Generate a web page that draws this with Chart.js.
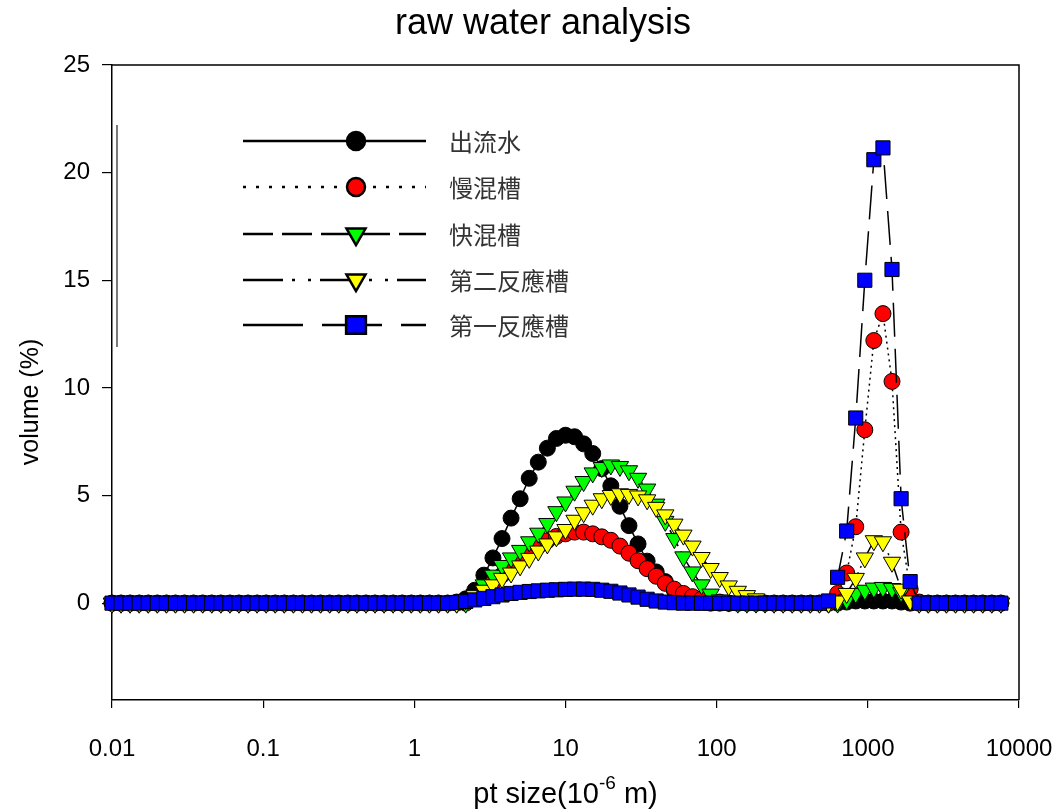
<!DOCTYPE html>
<html>
<head>
<meta charset="utf-8">
<script src="https://cdn.jsdelivr.net/npm/chart.js@4/dist/chart.umd.min.js"></script>
<style>
  body { margin: 0; background: #fff; }
  #wrap { width: 1058px; height: 812px; }
</style>
</head>
<body>
<div id="wrap"><canvas id="miGrafica" width="1058" height="812"></canvas></div>
<script>
// tamaños de partícula (um), clases logarítmicas
const tamanos = [
  0.01, 0.01148, 0.01318, 0.01514, 0.01738, 0.01995, 0.02291, 0.0263, 0.0302, 0.03467,
  0.03981, 0.04571, 0.05248, 0.06026, 0.06918, 0.07943, 0.0912, 0.1047, 0.1202, 0.138,
  0.1585, 0.182, 0.2089, 0.2399, 0.2754, 0.3162, 0.3631, 0.4169, 0.4786, 0.5495,
  0.631, 0.7244, 0.8318, 0.955, 1.096, 1.259, 1.445, 1.66, 1.905, 2.188,
  2.512, 2.884, 3.311, 3.802, 4.365, 5.012, 5.754, 6.607, 7.586, 8.71,
  10, 11.48, 13.18, 15.14, 17.38, 19.95, 22.91, 26.3, 30.2, 34.67,
  39.81, 45.71, 52.48, 60.26, 69.18, 79.43, 91.2, 104.7, 120.2, 138,
  158.5, 182, 208.9, 239.9, 275.4, 316.2, 363.1, 416.9, 478.6, 549.5,
  631, 724.4, 831.8, 955, 1096, 1259, 1445, 1660, 1905, 2188,
  2512, 2884, 3311, 3802, 4365, 5012, 5754, 6607, 7586
];

const salida = [ // 出流水
  0, 0, 0, 0, 0, 0, 0, 0, 0, 0,
  0, 0, 0, 0, 0, 0, 0, 0, 0, 0,
  0, 0, 0, 0, 0, 0, 0, 0, 0, 0,
  0, 0, 0, 0, 0, 0, 0, 0, 0.05, 0.2,
  0.6, 1.3, 2.1, 3.0, 3.95, 4.85, 5.8, 6.55, 7.2, 7.65,
  7.8, 7.73, 7.4, 6.95, 6.25, 5.45, 4.5, 3.6, 2.75, 1.95,
  1.45, 1.0, 0.6, 0.3, 0.12, 0.04, 0, 0, 0, 0,
  0, 0, 0, 0, 0, 0, 0, 0, 0, 0,
  0, 0.05, 0.1, 0.1, 0.1, 0.1, 0.1, 0.05, 0, 0,
  0, 0, 0, 0, 0, 0, 0, 0, 0
];

const mezclaLenta = [ // 慢混槽
  0, 0, 0, 0, 0, 0, 0, 0, 0, 0,
  0, 0, 0, 0, 0, 0, 0, 0, 0, 0,
  0, 0, 0, 0, 0, 0, 0, 0, 0, 0,
  0, 0, 0, 0, 0, 0, 0, 0, 0, 0,
  0.3, 0.6, 0.95, 1.3, 1.65, 2.0, 2.35, 2.65, 2.9, 3.1,
  3.22, 3.3, 3.3, 3.22, 3.08, 2.92, 2.65, 2.32, 1.97, 1.6,
  1.25, 0.92, 0.65, 0.45, 0.3, 0.18, 0.1, 0.05, 0, 0,
  0, 0, 0, 0, 0, 0, 0, 0, 0, 0,
  0.45, 1.4, 3.55, 8.05, 12.2, 13.45, 10.3, 3.3, 0.65, 0.05,
  0, 0, 0, 0, 0, 0, 0, 0, 0
];

const mezclaRapida = [ // 快混槽
  0, 0, 0, 0, 0, 0, 0, 0, 0, 0,
  0, 0, 0, 0, 0, 0, 0, 0, 0, 0,
  0, 0, 0, 0, 0, 0, 0, 0, 0, 0,
  0, 0, 0, 0, 0, 0, 0, 0, 0, 0,
  0.4, 0.85, 1.3, 1.75, 2.1, 2.45, 2.85, 3.25, 3.7, 4.25,
  4.7, 5.2, 5.65, 6.05, 6.3, 6.42, 6.35, 6.15, 5.8, 5.3,
  4.6, 3.8, 3.0, 2.15, 1.45, 0.85, 0.42, 0.15, 0.05, 0,
  0, 0, 0, 0, 0, 0, 0, 0, 0, 0,
  0, 0.15, 0.45, 0.6, 0.7, 0.73, 0.68, 0.5, 0.1, 0,
  0, 0, 0, 0, 0, 0, 0, 0, 0
];

const reaccion2 = [ // 第二反應槽
  0, 0, 0, 0, 0, 0, 0, 0, 0, 0,
  0, 0, 0, 0, 0, 0, 0, 0, 0, 0,
  0, 0, 0, 0, 0, 0, 0, 0, 0, 0,
  0, 0, 0, 0, 0, 0, 0, 0, 0, 0.15,
  0.35, 0.6, 0.85, 1.15, 1.4, 1.73, 2.08, 2.42, 2.75, 3.08,
  3.42, 3.85, 4.2, 4.55, 4.85, 5.0, 5.08, 5.05, 4.98, 4.8,
  4.45, 4.1, 3.67, 3.16, 2.65, 2.12, 1.61, 1.19, 0.8, 0.55,
  0.35, 0.2, 0.08, 0, 0, 0, 0, 0, 0, 0,
  0.1, 0.45, 1.15, 2.1, 2.9, 2.85, 1.9, 0.65, 0.1, 0,
  0, 0, 0, 0, 0, 0, 0, 0, 0
];

const reaccion1 = [ // 第一反應槽
  0, 0, 0, 0, 0, 0, 0, 0, 0, 0,
  0, 0, 0, 0, 0, 0, 0, 0, 0, 0,
  0, 0, 0, 0, 0, 0, 0, 0, 0, 0,
  0, 0, 0, 0, 0, 0, 0, 0, 0.03, 0.08,
  0.15, 0.22, 0.3, 0.38, 0.45, 0.5, 0.54, 0.57, 0.6, 0.62,
  0.64, 0.65, 0.65, 0.64, 0.6, 0.55, 0.47, 0.38, 0.28, 0.18,
  0.1, 0.05, 0.02, 0, 0, 0, 0, 0, 0, 0,
  0, 0, 0, 0, 0, 0, 0, 0, 0, 0.1,
  1.2, 3.35, 8.6, 15.0, 20.6, 21.15, 15.5, 4.85, 1.0, 0,
  0, 0, 0, 0, 0, 0, 0, 0, 0
];

const nombres = ["出流水", "慢混槽", "快混槽", "第二反應槽", "第一反應槽"];
const xTicks = [0.01, 0.1, 1, 10, 100, 1000, 10000];
const xTickLabels = ["0.01", "0.1", "1", "10", "100", "1000", "10000"];
const yTicks = [0, 5, 10, 15, 20, 25];

// estilo de cada serie
const estilos = [
  { color: "#000000", punto: "circle", radio: 8, rot: 0, dash: [], dashLeyenda: [] },
  { color: "#ff0000", punto: "circle", radio: 8, rot: 0, dash: [2, 4], dashLeyenda: [3, 10] },
  { color: "#00ff00", punto: "triangle", radio: 10, rot: 180, dash: [18, 6], dashLeyenda: [30, 9] },
  { color: "#ffff00", punto: "triangle", radio: 10, rot: 180, dash: [22, 5, 2, 7, 2, 5], dashLeyenda: [40, 9, 3, 13, 3, 9] },
  { color: "#0000ff", punto: "rect", radio: 10, rot: 0, dash: [34, 12], dashLeyenda: [60, 19] }
];

const series = [salida, mezclaLenta, mezclaRapida, reaccion2, reaccion1];

const datasets = series.map((serie, k) => ({
  label: nombres[k],
  data: tamanos.map((t, i) => ({ x: t, y: serie[i] })),
  borderColor: "#000",
  borderWidth: 1.5,
  borderDash: estilos[k].dash,
  pointStyle: estilos[k].punto,
  pointRotation: estilos[k].rot,
  pointRadius: estilos[k].radio,
  pointBackgroundColor: estilos[k].color,
  pointBorderColor: "#000",
  pointBorderWidth: 1,
  tension: 0,
  clip: false,
  order: 5 - k
}));

function marcador(ctx, est, x, y, r) {
  ctx.save();
  ctx.setLineDash([]);
  ctx.fillStyle = est.color;
  ctx.strokeStyle = "#000";
  ctx.lineWidth = 2.5;
  ctx.beginPath();
  if (est.punto === "circle") {
    ctx.arc(x, y, r, 0, Math.PI * 2);
  } else if (est.punto === "triangle") {
    const s = Math.sin(Math.PI / 3) * r;
    ctx.moveTo(x, y + r);
    ctx.lineTo(x - s, y - r / 2);
    ctx.lineTo(x + s, y - r / 2);
    ctx.closePath();
  } else {
    ctx.rect(x - r * 0.9, y - r * 0.8, r * 1.8, r * 1.6);
  }
  ctx.fill();
  ctx.stroke();
  ctx.restore();
}

const decoracion = {
  id: "decoracion",
  afterDraw(chart) {
    const ctx = chart.ctx;
    const a = chart.chartArea;
    ctx.save();
    // marco superior y derecho
    ctx.strokeStyle = "#000";
    ctx.lineWidth = 1.5;
    ctx.beginPath();
    ctx.moveTo(a.left, a.top);
    ctx.lineTo(a.right, a.top);
    ctx.lineTo(a.right, a.bottom);
    ctx.stroke();

    // título
    ctx.fillStyle = "#000";
    ctx.textAlign = "center";
    ctx.textBaseline = "middle";
    ctx.font = "36px 'Liberation Sans', Arial, sans-serif";
    ctx.fillText("raw water analysis", 543, 24);

    // título eje y
    ctx.save();
    ctx.translate(31, 402);
    ctx.rotate(-Math.PI / 2);
    ctx.font = "25px 'Liberation Sans', Arial, sans-serif";
    ctx.fillText("volume (%)", 0, 0);
    ctx.restore();

    // título eje x con superíndice
    ctx.textAlign = "left";
    ctx.textBaseline = "alphabetic";
    const f1 = "29px 'Liberation Sans', Arial, sans-serif";
    const f2 = "19px 'Liberation Sans', Arial, sans-serif";
    const p1 = "pt size(10", p2 = "-6", p3 = " m)";
    ctx.font = f1;
    const w1 = ctx.measureText(p1).width, w3 = ctx.measureText(p3).width;
    ctx.font = f2;
    const w2 = ctx.measureText(p2).width;
    let x0 = (a.left + a.right) / 2 - (w1 + w2 + w3) / 2;
    const yb = 803;
    ctx.font = f1; ctx.fillText(p1, x0, yb); x0 += w1;
    ctx.font = f2; ctx.fillText(p2, x0, yb - 14); x0 += w2;
    ctx.font = f1; ctx.fillText(p3, x0, yb);

    // leyenda
    ctx.strokeStyle = "#222";
    ctx.lineWidth = 1.2;
    ctx.beginPath();
    ctx.moveTo(117, 125);
    ctx.lineTo(117, 347);
    ctx.stroke();
    const filas = [141, 187, 234, 280, 325];
    estilos.forEach((est, k) => {
      const y = filas[k];
      ctx.save();
      ctx.strokeStyle = "#000";
      ctx.lineWidth = 2.5;
      ctx.setLineDash(est.dashLeyenda);
      ctx.beginPath();
      ctx.moveTo(243, y);
      ctx.lineTo(426, y);
      ctx.stroke();
      ctx.restore();
      marcador(ctx, est, 356, y, est.punto === "circle" ? 9 : 11);
      ctx.fillStyle = "#333";
      ctx.textAlign = "left";
      ctx.textBaseline = "middle";
      ctx.font = "24px 'Noto Sans CJK TC', sans-serif";
      ctx.fillText(nombres[k], 449, y + 1);
    });
    ctx.restore();
  }
};

const ctx = document.getElementById("miGrafica").getContext("2d");
new Chart(ctx, {
  type: "line",
  data: { datasets: datasets },
  options: {
    responsive: false,
    animation: false,
    layout: { padding: { top: 65, right: 39, left: 0, bottom: 0 } },
    plugins: {
      legend: { display: false },
      tooltip: { enabled: false },
      title: { display: false }
    },
    scales: {
      x: {
        type: "logarithmic",
        min: 0.01,
        max: 10000,
        afterBuildTicks: (scale) => { scale.ticks = xTicks.map(v => ({ value: v })); },
        afterFit: (scale) => { scale.height = 112; scale.paddingLeft = 0; scale.paddingRight = 0; },
        ticks: {
          autoSkip: false,
          maxRotation: 0,
          padding: 27,
          color: "#000",
          font: { family: "'Liberation Sans', Arial, sans-serif", size: 24 },
          callback: (v, i) => xTickLabels[i]
        },
        grid: { drawOnChartArea: false, drawTicks: true, tickLength: 8, color: "#000", lineWidth: 1.2 },
        border: { display: true, color: "#000", width: 1.5 }
      },
      y: {
        type: "linear",
        min: -4.5,
        max: 25,
        afterBuildTicks: (scale) => { scale.ticks = yTicks.map(v => ({ value: v })); },
        afterFit: (scale) => { scale.width = 112; scale.paddingTop = 0; scale.paddingBottom = 0; },
        ticks: {
          padding: 12,
          color: "#000",
          font: { family: "'Liberation Sans', Arial, sans-serif", size: 24 },
          callback: (v) => String(v)
        },
        grid: { drawOnChartArea: false, drawTicks: true, tickLength: 10, color: "#000", lineWidth: 1.2 },
        border: { display: true, color: "#000", width: 1.5 }
      }
    }
  },
  plugins: [decoracion]
});
</script>
</body>
</html>
